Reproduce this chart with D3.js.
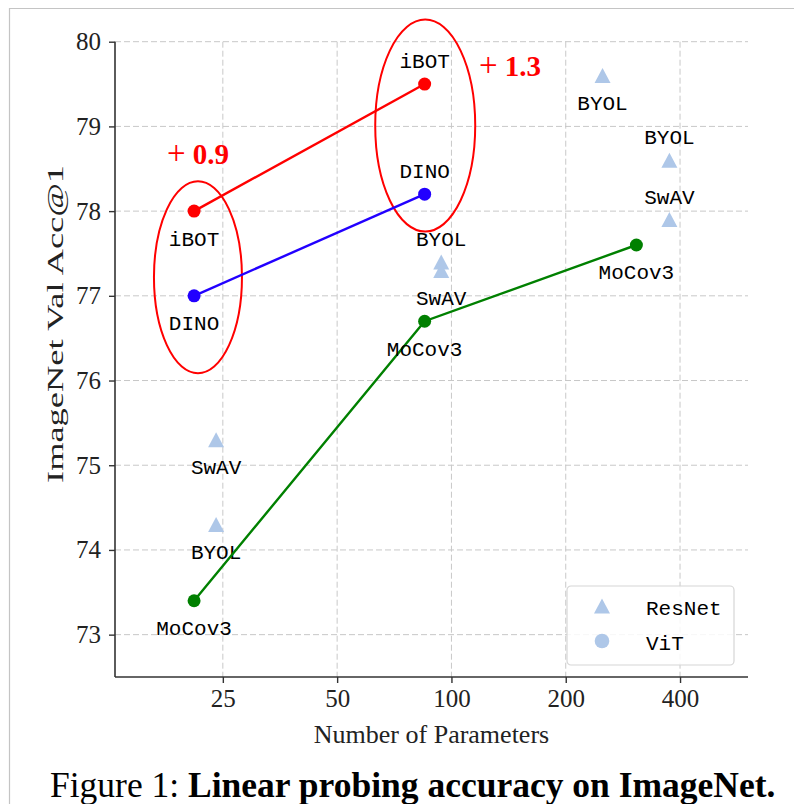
<!DOCTYPE html>
<meta charset="utf-8">
<script src="https://d3js.org/d3.v7.min.js"></script>
<style>
  body { margin: 0; background: #fff; }
</style>
<svg id="chart" width="794" height="804"></svg>
<script>

// ViT models (params in millions)
var vitParams = [21, 85, 307];
var ibotAcc = [78.0, 79.5];
var dinoAcc = [77.0, 78.2];
var mocoAcc = [73.4, 76.7, 77.6];

// ResNet models
var resnetNames  = ["SwAV", "BYOL", "BYOL", "SwAV", "BYOL", "BYOL", "SwAV"];
var resnetParams = [24, 24, 94, 94, 250, 375, 375];
var resnetAcc    = [75.3, 74.3, 77.4, 77.3, 79.6, 78.6, 77.9];

var xTicks = [25, 50, 100, 200, 400];
var yTicks = [73, 74, 75, 76, 77, 78, 79, 80];
var gainLabels = ["+ 0.9", "+ 1.3"];

// label placement (above / below the marker)
var resnetSide = ["below", "below", "above", "below", "below", "above", "above"];
var ibotSide = ["below", "above"];
var dinoSide = ["below", "above"];
var mocoSide = ["below", "below", "below"];

var svg = d3.select("#chart");
var plotL = 115, plotR = 748, plotT = 41.7, plotB = 677;

var x = d3.scaleLog().base(2).domain([13, 604]).range([plotL, plotR]);
var y = d3.scaleLinear().domain([72.5, 80]).range([plotB, plotT]);

var serif = "'Liberation Serif', 'Times New Roman', serif";
var mono = "'Liberation Mono', 'Courier New', monospace";
var triColor = "#aec7e8";

// page frame (screenshot border)
svg.append("path")
  .attr("d", "M9.5,804 V8.5 H794")
  .attr("fill", "none")
  .attr("stroke", "#c4c4c4")
  .attr("stroke-width", 1.2);

// grid
svg.append("g").selectAll("line")
  .data(yTicks).enter().append("line")
    .attr("x1", plotL).attr("x2", plotR)
    .attr("y1", d => y(d)).attr("y2", d => y(d))
    .attr("stroke", "#c8c8c8").attr("stroke-width", 1)
    .attr("stroke-dasharray", "6,3");
svg.append("g").selectAll("line")
  .data(xTicks).enter().append("line")
    .attr("x1", d => x(d)).attr("x2", d => x(d))
    .attr("y1", plotT).attr("y2", plotB)
    .attr("stroke", "#c8c8c8").attr("stroke-width", 1)
    .attr("stroke-dasharray", "6,3");

// axes
var xAxis = svg.append("g")
  .attr("transform", "translate(0," + plotB + ")")
  .call(d3.axisBottom(x).tickValues(xTicks).tickFormat(d3.format("d")).tickSizeOuter(0).tickSize(6).tickPadding(6));
var yAxis = svg.append("g")
  .attr("transform", "translate(" + plotL + ",0)")
  .call(d3.axisLeft(y).tickValues(yTicks).tickSizeOuter(0).tickSize(6).tickPadding(8));

[xAxis, yAxis].forEach(function(a) {
  a.select(".domain").attr("stroke", "#333").attr("stroke-width", 1.6);
  a.selectAll(".tick line").attr("stroke", "#333").attr("stroke-width", 1.4);
  a.selectAll(".tick text")
    .attr("font-family", serif).attr("font-size", 25).attr("fill", "#222");
});
xAxis.select(".domain").attr("d", "M" + plotL + ",0H" + plotR);
yAxis.select(".domain").attr("d", "M0," + plotB + "V" + plotT);

svg.append("text")
  .attr("x", (plotL + plotR) / 2).attr("y", 743)
  .attr("text-anchor", "middle")
  .attr("font-family", serif).attr("font-size", 26).attr("fill", "#222")
  .text("Number of Parameters");

svg.append("text")
  .attr("transform", "translate(63,324) rotate(-90)")
  .attr("text-anchor", "middle")
  .attr("font-family", serif).attr("font-size", 24).attr("fill", "#222")
  .attr("textLength", 318).attr("lengthAdjust", "spacingAndGlyphs")
  .text("ImageNet Val Acc@1");

// highlight ellipses
var ellipses = [
  { p: 21.5, acc: 77.22, rx: 44, ry: 96 },
  { p: 85.3, acc: 79.01, rx: 50, ry: 106 }
];
svg.append("g").selectAll("ellipse")
  .data(ellipses).enter().append("ellipse")
    .attr("cx", d => x(d.p)).attr("cy", d => y(d.acc))
    .attr("rx", d => d.rx).attr("ry", d => d.ry)
    .attr("fill", "none").attr("stroke", "#ff0000").attr("stroke-width", 2);

// ResNet triangles
function tri(w, h) {
  return "M0," + (-h / 2) + "L" + (w / 2) + "," + (h / 2) + "L" + (-w / 2) + "," + (h / 2) + "Z";
}
svg.append("g").selectAll("path")
  .data(resnetAcc).enter().append("path")
    .attr("transform", (d, i) => "translate(" + x(resnetParams[i]) + "," + y(d) + ")")
    .attr("d", tri(16, 15))
    .attr("fill", triColor);

function labelY(acc, side) {
  return side === "above" ? y(acc) - 16 : y(acc) + 34.5;
}

svg.append("g").selectAll("text")
  .data(resnetAcc).enter().append("text")
    .attr("x", (d, i) => x(resnetParams[i]))
    .attr("y", (d, i) => labelY(d, resnetSide[i]))
    .attr("text-anchor", "middle")
    .attr("font-family", mono).attr("font-size", 21).attr("fill", "#000")
    .text((d, i) => resnetNames[i]);

// ViT series
var series = [
  { name: "MoCov3", acc: mocoAcc, color: "green", side: mocoSide },
  { name: "DINO", acc: dinoAcc, color: "#2200ff", side: dinoSide },
  { name: "iBOT", acc: ibotAcc, color: "#ff0000", side: ibotSide }
];

var line = d3.line()
  .x(d => x(d.p))
  .y(d => y(d.acc));

series.forEach(function(s) {
  var pts = s.acc.map((a, i) => ({ p: vitParams[i], acc: a, side: s.side[i] }));
  var g = svg.append("g");
  g.append("path")
    .datum(pts)
    .attr("d", line)
    .attr("fill", "none")
    .attr("stroke", s.color)
    .attr("stroke-width", 2.4);
  g.selectAll("circle")
    .data(pts).enter().append("circle")
      .attr("cx", d => x(d.p)).attr("cy", d => y(d.acc))
      .attr("r", 6.5)
      .attr("fill", s.color);
  g.selectAll("text")
    .data(pts).enter().append("text")
      .attr("x", d => x(d.p)).attr("y", d => labelY(d.acc, d.side))
      .attr("text-anchor", "middle")
      .attr("font-family", mono).attr("font-size", 21).attr("fill", "#000")
      .text(s.name);
});

// gain annotations
var gainPos = [
  { p: 21.5, acc: 78.56 },
  { p: 142.6, acc: 79.6 }
];
var gains = svg.append("g").selectAll("text")
  .data(gainPos).enter().append("text")
    .attr("x", d => x(d.p)).attr("y", d => y(d.acc))
    .attr("text-anchor", "middle")
    .attr("font-family", serif)
    .attr("font-size", 29).attr("fill", "#ff0000")
    .attr("xml:space", "preserve");
gains.append("tspan").attr("font-size", 33)
  .text((d, i) => gainLabels[i].split(" ")[0]);
gains.append("tspan").attr("font-weight", "bold")
  .text((d, i) => " " + gainLabels[i].split(" ")[1]);

// legend
var legend = svg.append("g").attr("transform", "translate(567,586)");
legend.append("rect")
  .attr("width", 167).attr("height", 79).attr("rx", 4)
  .attr("fill", "#fff").attr("fill-opacity", 0.85)
  .attr("stroke", "#d6d6d6").attr("stroke-width", 1.2);
legend.append("path")
  .attr("transform", "translate(35,20)")
  .attr("d", tri(16, 15))
  .attr("fill", triColor);
legend.append("circle")
  .attr("cx", 35).attr("cy", 55).attr("r", 7.3)
  .attr("fill", triColor);
legend.selectAll("text")
  .data(["ResNet", "ViT"]).enter().append("text")
    .attr("x", 79).attr("y", (d, i) => 29 + i * 35)
    .attr("font-family", mono).attr("font-size", 21).attr("fill", "#000")
    .text(d => d);

// caption
var cap = svg.append("text")
  .attr("x", 50).attr("y", 797)
  .attr("font-family", serif).attr("font-size", 35.5).attr("fill", "#000");
cap.append("tspan").text("Figure 1: ");
cap.append("tspan").attr("font-weight", "bold").text("Linear probing accuracy on ImageNet.");

</script>
